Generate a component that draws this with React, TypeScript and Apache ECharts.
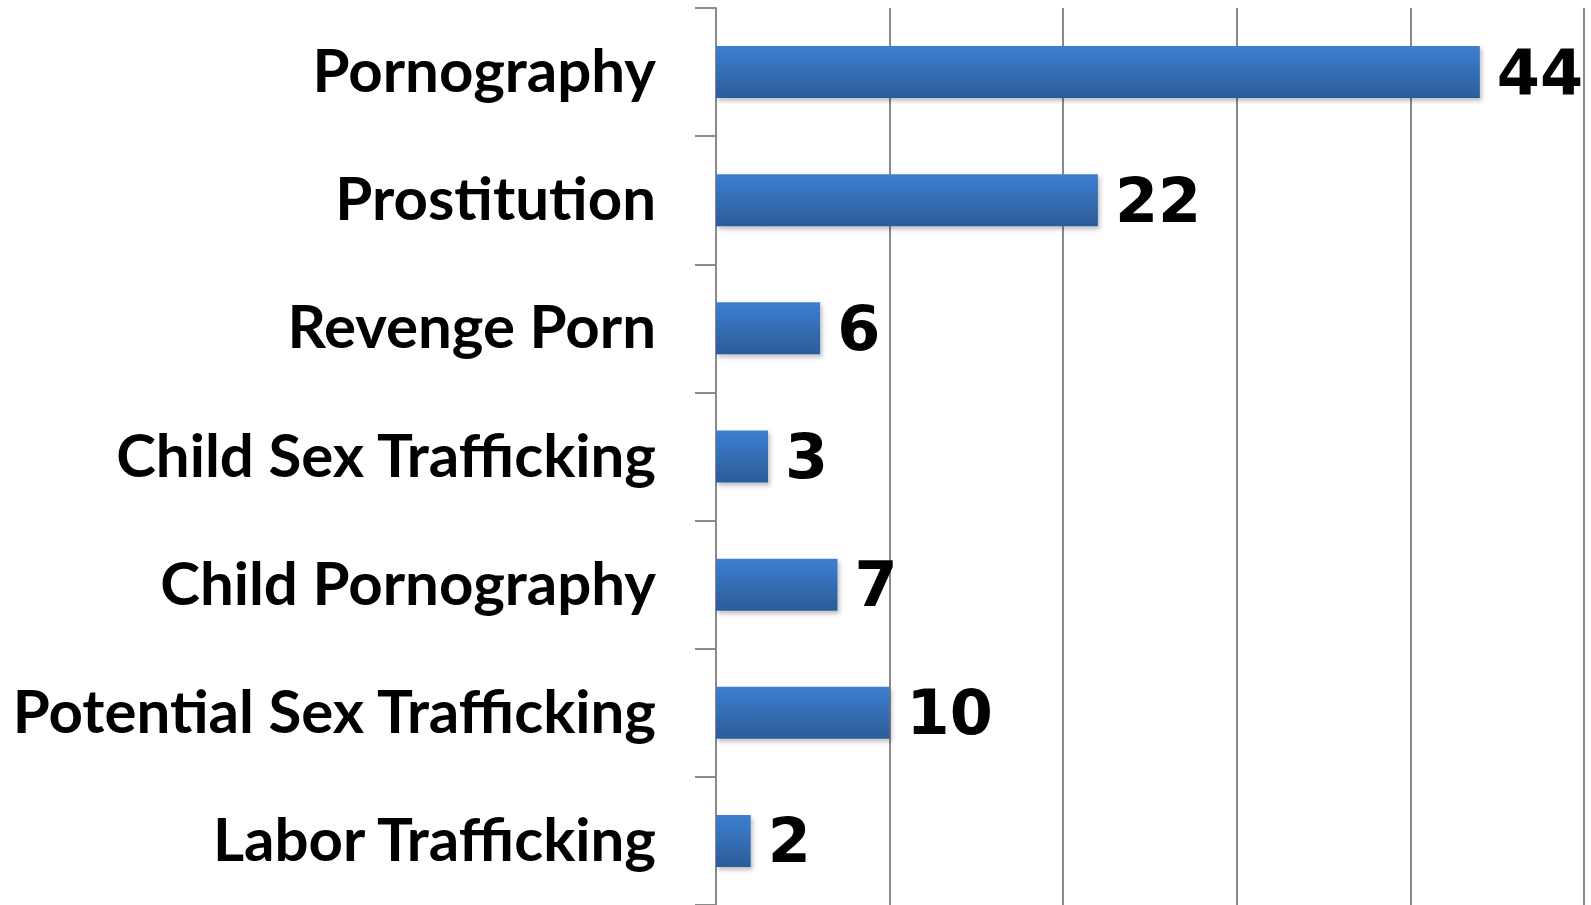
import React, { useEffect, useRef } from "react";
import * as echarts from "echarts";

const categories = [
  "Pornography",
  "Prostitution",
  "Revenge Porn",
  "Child Sex Trafficking",
  "Child Pornography",
  "Potential Sex Trafficking",
  "Labor Trafficking",
];
const values = [44, 22, 6, 3, 7, 10, 2];
const axisMax = 50;
const axisInterval = 10;

export default function App() {
  const ref = useRef<HTMLDivElement>(null);
  useEffect(() => {
    document.body.style.margin = "0";
    const chart = echarts.init(ref.current!, null, { renderer: "svg" });
    chart.setOption({
      animation: false,
      backgroundColor: "#ffffff",
      grid: { left: 716, right: 7, top: 8, bottom: -2, containLabel: false },
      xAxis: {
        type: "value",
        min: 0,
        max: axisMax,
        interval: axisInterval,
        axisLine: { show: false },
        axisTick: { show: false },
        axisLabel: { show: false },
        splitLine: { show: true, lineStyle: { color: "#8a8a8a", width: 2 } },
      },
      yAxis: {
        type: "category",
        data: categories,
        inverse: true,
        axisLine: { show: true, lineStyle: { color: "#8a8a8a", width: 2 } },
        axisTick: { show: true, length: 21, lineStyle: { color: "#8a8a8a", width: 2 } },
        axisLabel: {
          margin: 60,
          formatter: (v: string) => "{a|" + v + "}",
          rich: {
            a: {
              color: "#000000",
              fontFamily: "Lato",
              fontWeight: "bold",
              fontSize: 60,
              padding: [0, 0, 6, 0],
            },
          },
        },
      },
      series: [
        {
          type: "bar",
          data: values,
          barWidth: 52,
          itemStyle: {
            color: new echarts.graphic.LinearGradient(0, 0, 0, 1, [
              { offset: 0, color: "#3d7fd0" },
              { offset: 1, color: "#2c5c99" },
            ]),
            shadowColor: "rgba(0,0,0,0.25)",
            shadowBlur: 4,
            shadowOffsetX: 2,
            shadowOffsetY: 3,
          },
          label: {
            show: true,
            position: "right",
            distance: 17,
            color: "#000000",
            fontFamily: "DejaVu Sans",
            fontWeight: "bold",
            fontSize: 62,
          },
        },
      ],
    });
    return () => chart.dispose();
  }, []);
  return <div ref={ref} style={{ width: 1591, height: 905 }} />;
}
